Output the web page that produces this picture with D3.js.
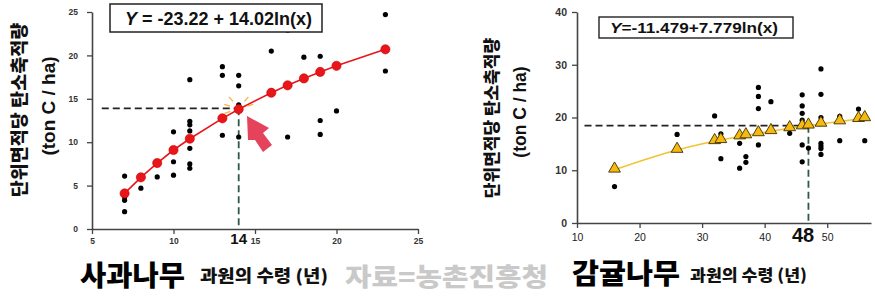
<!DOCTYPE html>
<html><head><meta charset="utf-8">
<script src="https://cdn.jsdelivr.net/npm/d3@7"></script>
<style>
body{margin:0;background:#fff;}
svg{display:block;font-family:"Liberation Sans",Arial,sans-serif;}
.kr{font-family:"Noto Sans CJK KR","Liberation Sans",sans-serif;font-weight:900;}
</style></head><body>
<svg id="c" width="875" height="303"></svg>
<script>
// ---------- DATA ----------
// Apple (사과나무)
const appleFitAge = [7,8,9,10,11,13,14,16,17,18,19,20,23];
const appleFitVal = [4.1,5.95,7.6,9.1,10.4,12.75,13.8,15.7,16.55,17.35,18.1,18.8,20.7];
const appleObsAge = [7,7,7,7,8,9,10,10,10,11,11,11,11,11,11,11,13,13,13,14,14,14,14,14,16,17,17,18,19,19,19,20,23,23];
const appleObsVal = [6.1,3.7,3.3,2.0,4.7,6.0,11.2,7.75,6.2,17.2,12.4,12.0,11.3,9.3,7.5,7.0,18.7,17.7,10.8,17.7,16.5,14.3,14.0,10.6,20.5,22.9,10.6,19.8,19.9,12.5,10.9,13.6,24.7,18.2];
const appleXTicks = [5,10,15,20,25];
const appleYTicks = [0,5,10,15,20,25];
const appleMarkAge = 14, appleMarkVal = 13.9, appleMarkLabel = "14";
const appleEq = "= -23.22 + 14.02ln(x)";

// Citrus (감귤나무)
const citrusFitAge = [16,26,32,33,36,37,39,41,44,46,47,49,52,55,56];
const citrusFitVal = [10.1,13.85,15.5,15.7,16.4,16.6,17.0,17.4,17.95,18.3,18.45,18.8,19.25,19.7,19.85];
const citrusObsAge = [16,26,32,33,33,36,36,37,37,39,39,39,39,41,44,46,46,46,46,46,46,47,49,49,49,49,49,49,49,52,52,55,56];
const citrusObsVal = [6.9,16.8,20.3,16.9,12.2,15.1,10.4,12.6,11.5,25.7,24.0,21.7,14.8,23.0,17.0,24.3,22.2,20.8,19.5,14.8,11.6,14.2,29.2,24.4,20.0,15.1,14.6,14.1,13.0,20.2,15.6,21.6,15.6];
const citrusXTicks = [10,20,30,40,50];
const citrusYTicks = [0,10,20,30,40];
const citrusMarkAge = 47, citrusMarkVal = 18.45, citrusMarkLabel = "48";
const citrusEq = "=-11.479+7.779ln(x)";

const yTitle1 = "단위면적당 탄소축적량";
const yTitle2 = "(ton C / ha)";
const xTitle = "과원의 수령 (년)";
const appleName = "사과나무", citrusName = "감귤나무", source = "자료=농촌진흥청";

// ---------- DRAW ----------
const svg = d3.select("#c");
svg.append("rect").attr("width",875).attr("height",303).attr("fill","#fff");

const axisCol = "#444";
function styleAxis(g, fs){
  g.select(".domain").attr("stroke",axisCol).attr("stroke-width",1.6);
  g.selectAll(".tick line").attr("stroke",axisCol).attr("stroke-width",1.3);
  g.selectAll(".tick text").attr("fill","#333").attr("font-size",fs).attr("font-weight","bold")
    .attr("font-family","'Liberation Sans',Arial,sans-serif");
}

// ===== Apple chart =====
const xL = d3.scaleLinear().domain([5,25]).range([92,418]);
const yL = d3.scaleLinear().domain([0,25]).range([229,12]);

const gLy = svg.append("g").attr("transform","translate(92,0)")
  .call(d3.axisLeft(yL).tickValues(appleYTicks).tickSize(5).tickSizeOuter(0).tickPadding(9));
styleAxis(gLy, 8.5);
const gLx = svg.append("g").attr("transform","translate(0,229)")
  .call(d3.axisBottom(xL).tickValues(appleXTicks).tickSize(5).tickSizeOuter(0).tickPadding(4));
styleAxis(gLx, 8.5);

// reference lines
svg.append("line").attr("x1",xL(5.6)).attr("x2",xL(appleMarkAge)).attr("y1",yL(appleMarkVal)).attr("y2",yL(appleMarkVal))
  .attr("stroke","#222").attr("stroke-width",1.8).attr("stroke-dasharray","7,4");
svg.append("line").attr("x1",xL(appleMarkAge)).attr("x2",xL(appleMarkAge)).attr("y1",yL(appleMarkVal)).attr("y2",yL(0))
  .attr("stroke","#2e5a48").attr("stroke-width",1.8).attr("stroke-dasharray","7,4");

// observed
svg.append("g").selectAll("circle").data(appleObsAge.map((a,i)=>[a,appleObsVal[i]])).join("circle")
  .attr("cx",d=>xL(d[0])).attr("cy",d=>yL(d[1])).attr("r",2.6).attr("fill","#000");

// fitted line & points
const appleFit = appleFitAge.map((a,i)=>[a,appleFitVal[i]]);
svg.append("path").datum(appleFit).attr("fill","none").attr("stroke","#e8161b").attr("stroke-width",1.6)
  .attr("d",d3.line().x(d=>xL(d[0])).y(d=>yL(d[1])));
svg.append("g").selectAll("circle").data(appleFit).join("circle")
  .attr("cx",d=>xL(d[0])).attr("cy",d=>yL(d[1])).attr("r",4.6).attr("fill","#e8161b").attr("stroke","#c00").attr("stroke-width",0.6);

// sunburst dashes around marked point
const cx0 = xL(appleMarkAge), cy0 = yL(appleMarkVal);
[-50,-15,160,195,230].forEach(ang=>{
  const r = ang*Math.PI/180;
  svg.append("line").attr("x1",cx0+9*Math.cos(r)).attr("y1",cy0+9*Math.sin(r))
    .attr("x2",cx0+15*Math.cos(r)).attr("y2",cy0+15*Math.sin(r))
    .attr("stroke","#f2b545").attr("stroke-width",1.3);
});
// arrow
svg.append("path").attr("d","M247,116 L269,128 L263,133 L272,145 L263,152 L255,140 L248,140 Z")
  .attr("fill","#e5435c");

// equation box
svg.append("rect").attr("x",110).attr("y",4).attr("width",212).attr("height",28)
  .attr("fill","#fff").attr("stroke","#222").attr("stroke-width",1.5);
const eqL = svg.append("text").attr("x",125).attr("y",24.5).attr("font-size",17.5).attr("font-weight","bold").attr("fill","#111")
  .attr("textLength",187).attr("lengthAdjust","spacingAndGlyphs");
eqL.append("tspan").attr("font-style","italic").text("Y");
eqL.append("tspan").text(" "+appleEq);

// "14" label
svg.append("text").attr("x",xL(appleMarkAge)).attr("y",244).attr("text-anchor","middle")
  .attr("font-size",15).attr("font-weight","bold").attr("fill","#111").text(appleMarkLabel);

// y titles
svg.append("text").attr("class","kr").attr("transform","translate(26,110) rotate(-90)").attr("text-anchor","middle")
  .attr("font-size",18.5).attr("fill","#111").text(yTitle1);
svg.append("text").attr("transform","translate(55,106) rotate(-90)").attr("text-anchor","middle")
  .attr("font-size",19).attr("font-weight","bold").attr("fill","#111").text(yTitle2);

// ===== Citrus chart =====
const xR = d3.scaleLinear().domain([10,57]).range([577,871]);
const yR = d3.scaleLinear().domain([0,40]).range([223,12]);

const gRy = svg.append("g").attr("transform","translate(577,0)")
  .call(d3.axisLeft(yR).tickValues(citrusYTicks).tickSize(5).tickSizeOuter(0).tickPadding(5));
styleAxis(gRy, 10.5);
const gRx = svg.append("g").attr("transform","translate(0,223)")
  .call(d3.axisBottom(xR).tickValues(citrusXTicks).tickSize(5).tickSizeOuter(0).tickPadding(6));
styleAxis(gRx, 10.5);
gRx.selectAll(".tick text").attr("font-weight","normal").attr("fill","#222");

svg.append("line").attr("x1",xR(11.2)).attr("x2",xR(citrusMarkAge)).attr("y1",yR(citrusMarkVal)).attr("y2",yR(citrusMarkVal))
  .attr("stroke","#222").attr("stroke-width",1.8).attr("stroke-dasharray","7,4");
svg.append("line").attr("x1",xR(citrusMarkAge)).attr("x2",xR(citrusMarkAge)).attr("y1",yR(citrusMarkVal)).attr("y2",yR(0))
  .attr("stroke","#2e5a48").attr("stroke-width",1.8).attr("stroke-dasharray","7,4");

svg.append("g").selectAll("circle").data(citrusObsAge.map((a,i)=>[a,citrusObsVal[i]])).join("circle")
  .attr("cx",d=>xR(d[0])).attr("cy",d=>yR(d[1])).attr("r",2.6).attr("fill","#000");

const citrusFit = citrusFitAge.map((a,i)=>[a,citrusFitVal[i]]);
svg.append("path").datum(citrusFit).attr("fill","none").attr("stroke","#f4c230").attr("stroke-width",1.5)
  .attr("d",d3.line().curve(d3.curveMonotoneX).x(d=>xR(d[0])).y(d=>yR(d[1])));
const tri = d3.symbol().type(d3.symbolTriangle).size(60);
svg.append("g").selectAll("path").data(citrusFit).join("path")
  .attr("transform",d=>`translate(${xR(d[0])},${yR(d[1])-1})`).attr("d",tri)
  .attr("fill","#f7b90f").attr("stroke","#3a3000").attr("stroke-width",0.9);

svg.append("rect").attr("x",599).attr("y",17).attr("width",194).attr("height",21)
  .attr("fill","#fff").attr("stroke","#222").attr("stroke-width",1.4);
const eqR = svg.append("text").attr("x",610).attr("y",33).attr("font-size",15).attr("font-weight","bold").attr("fill","#111")
  .attr("textLength",168).attr("lengthAdjust","spacingAndGlyphs");
eqR.append("tspan").attr("font-style","italic").text("Y");
eqR.append("tspan").text(citrusEq);

svg.append("text").attr("x",803).attr("y",242).attr("text-anchor","middle")
  .attr("font-size",20).attr("font-weight","bold").attr("fill","#111").text(citrusMarkLabel);

svg.append("text").attr("class","kr").attr("transform","translate(498,118) rotate(-90)").attr("text-anchor","middle")
  .attr("font-size",17).attr("fill","#111").text(yTitle1);
svg.append("text").attr("transform","translate(526,112) rotate(-90)").attr("text-anchor","middle")
  .attr("font-size",17.5).attr("font-weight","bold").attr("fill","#111").text(yTitle2);

// ===== bottom captions =====
svg.append("text").attr("class","kr").attr("x",80).attr("y",286).attr("font-size",28).attr("fill","#000")
  .attr("textLength",105).attr("lengthAdjust","spacingAndGlyphs").text(appleName);
svg.append("text").attr("class","kr").attr("x",200).attr("y",282).attr("font-size",17).attr("fill","#111")
  .attr("textLength",128).attr("lengthAdjust","spacingAndGlyphs").text(xTitle);
svg.append("text").attr("class","kr").attr("x",345).attr("y",286).attr("font-size",25).attr("fill","#c9c9c9")
  .attr("textLength",203).attr("lengthAdjust","spacingAndGlyphs").text(source);
svg.append("text").attr("class","kr").attr("x",572).attr("y",284).attr("font-size",28).attr("fill","#000")
  .attr("textLength",108).attr("lengthAdjust","spacingAndGlyphs").text(citrusName);
svg.append("text").attr("class","kr").attr("x",690).attr("y",281).attr("font-size",16).attr("fill","#111")
  .attr("textLength",117).attr("lengthAdjust","spacingAndGlyphs").text(xTitle);
</script>
</body></html>
